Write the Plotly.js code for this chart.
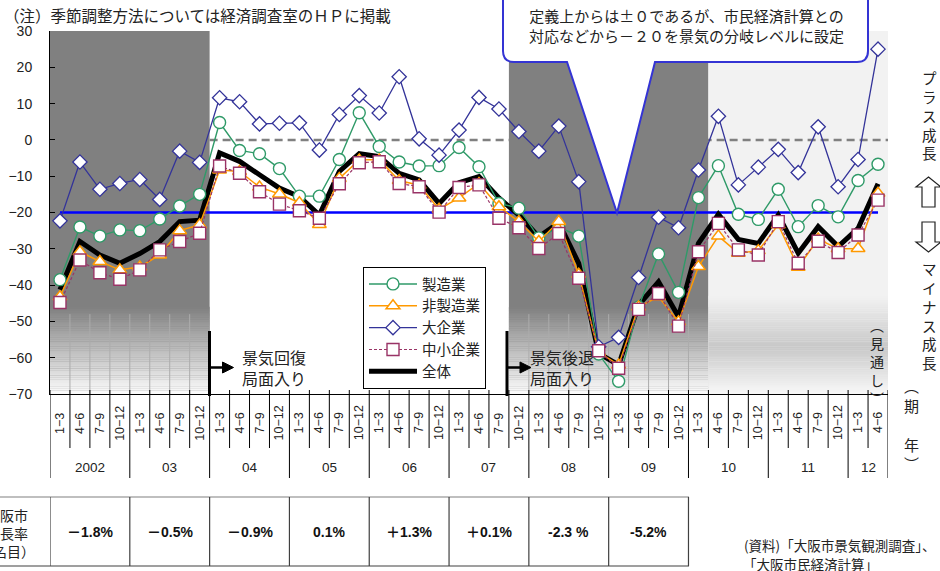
<!DOCTYPE html>
<html><head><meta charset="utf-8">
<script src="https://cdn.plot.ly/plotly-3.0.1.min.js"></script>
<style>html,body{margin:0;padding:0;background:#fff;}#chart{width:940px;height:571px;}</style>
</head><body><div id="chart"></div>
<script>
// ---- data ----
const yearLabels = ['2002','03','04','05','06','07','08','09','10','11','12'];
const quarterNames = ['1−3','4−6','7−9','10−12'];
const quartersPerYear = [4,4,4,4,4,4,4,4,4,4,2];

const seizogyo = [-38.5,-24,-26.5,-24.8,-25,-21.8,-18.2,-15,4.8,-2.9,-3.8,-7.9,-15.5,-15.5,-5.4,7.5,-1.8,-6.1,-7.2,-7.1,-2.1,-7.4,-17.5,-18.8,-27,-24,-26.5,-59,-66.5,-46,-31.4,-42,-15.9,-7.1,-20.5,-21.9,-13.6,-23.9,-18.1,-21.2,-11.2,-6.7];
const hiseizogyo = [-43.2,-30.8,-33.5,-35.8,-35,-31.7,-25,-23.4,-8.3,-8.7,-13,-14.9,-17.3,-23.3,-10.6,-5.5,-5.5,-11.2,-12.5,-19.1,-16,-12,-18.4,-22.5,-28,-22.5,-37,-58.5,-62,-46,-43.2,-50.1,-34.9,-26.5,-31.2,-30.5,-23.4,-35.1,-27.3,-30,-29.9,-14.7];
const daikigyo = [-22.3,-6.1,-13.6,-12,-10.9,-16.4,-3.1,-6.2,11.6,10.5,4.4,4.6,4.7,-2.8,7,12.2,7.4,17.4,0.3,-4.2,2.7,11.7,8.5,2.3,-3.1,3.8,-11.5,-57,-54.4,-37.9,-21.3,-24.2,-8.3,6.5,-12.4,-7.5,-2.6,-9,3.6,-12.9,-5.4,25];
const chushokigyo = [-44.8,-33.1,-36.6,-38.4,-35.8,-30.3,-28,-25.7,-7.2,-9.2,-14.3,-17.7,-19.5,-21.6,-12.1,-6.3,-6,-12,-12.9,-19.9,-13.1,-12.4,-21.6,-24.2,-29.9,-25.8,-38.1,-58.1,-62.9,-46.7,-42.3,-51.3,-30.8,-23,-30.3,-31.7,-22.5,-34,-27.9,-31,-26.2,-16.6];
const zentai = [-41.3,-28,-31.7,-34,-31.3,-28,-22.5,-22.1,-3.6,-5.9,-9.6,-13.3,-15.6,-20.7,-8.7,-3.8,-4.6,-9.2,-11,-17.5,-11.8,-10.1,-16,-20.7,-26.7,-22.8,-34,-58.8,-62,-45.5,-39.1,-48.7,-28.5,-20.5,-27.4,-28.5,-20.7,-31.2,-23.9,-29.4,-24.4,-12.1];

const growthRates = ['－1.8%','－0.5%','－0.9%','0.1%','＋1.3%','＋0.1%','-2.3 %','-5.2%'];

const thresholdLevel = -20;
const zeroLevel = 0;

// ---- derived categories ----
const quarterLabels = [];
const yearStart = [];
quartersPerYear.forEach((n, y) => {
  yearStart.push(quarterLabels.length);
  for (let q = 0; q < n; q++) quarterLabels.push(quarterNames[q]);
});
const xIdx = quarterLabels.map((_, i) => i);
const nQ = quarterLabels.length;

// ---- geometry helpers (plot area px) ----
const L = 50, T = 31, W = 838, H = 363;
const X = px => (px - L) / W;
const Y = py => (T + H - py) / H;
const pt = (px, py) => X(px) + ',' + Y(py);

const JP = '"Noto Sans CJK JP", sans-serif';
const NUM = '"Liberation Sans", Arial, "Noto Sans CJK JP", sans-serif';
const TXT = '#222';

const shapes = [];
const annotations = [];

// shaded regions
function g(v) { return 'rgb(' + v + ',' + v + ',' + v + ')'; }
function region(x0, x1, colorFn, base) {
  shapes.push({type:'rect', xref:'x', yref:'y', x0:x0, x1:x1, y0:-70, y1:30, fillcolor:g(base), line:{width:0}, layer:'below'});
  for (let v = -70; v < -40; v += 0.5) {
    const c = colorFn(v + 0.25);
    if (c === base) continue;
    shapes.push({type:'rect', xref:'x', yref:'y', x0:x0, x1:x1, y0:v, y1:v + 0.55, fillcolor:g(c), line:{width:0}, layer:'below'});
  }
}
const darkFn = v => v >= -46 ? 128 : Math.round(128 + (-46 - v) / 24 * 124);
const lightFn = v => {
  if (v >= -43) return 242;
  if (v >= -57) return Math.round(242 - (-43 - v) / 14 * 42);
  return Math.round(200 + (-57 - v) / 13 * 48);
};
region(-0.5, yearStart[2] - 0.5, darkFn, 128);
region(22.5, 32.5, darkFn, 128);
region(32.5, nQ - 0.5, lightFn, 242);
// faint verticals in the dark gradient zone
[[0,8],[23,33]].forEach(([a,b]) => {
  for (let k = a + 1; k < b; k++) {
    shapes.push({type:'line', xref:'x', yref:'y', x0:k - 0.5, x1:k - 0.5, y0:-48, y1:-70, line:{color:'#acacac', width:1}, layer:'below'});
  }
});

// reference lines
shapes.push({type:'line', xref:'x', yref:'y', x0:yearStart[2] - 0.5, x1:nQ - 0.5, y0:zeroLevel, y1:zeroLevel, line:{color:'#808080', width:2.5, dash:'8px,5px'}, layer:'below'});
shapes.push({type:'line', xref:'x', yref:'y', x0:0, x1:nQ - 1, y0:thresholdLevel, y1:thresholdLevel, line:{color:'#0000ff', width:2.5}, layer:'below'});

// x-axis dividers
const yearBounds = yearStart.concat([nQ]);
for (let k = 0; k <= nQ; k++) {
  const isYear = yearBounds.indexOf(k) >= 0;
  shapes.push({type:'line', xref:'x', yref:'paper', x0:k - 0.5, x1:k - 0.5, y0:Y(390), y1:Y(isYear ? 478 : 448), line:{color:'#000', width:1}});
}
// quarter labels
quarterLabels.forEach((q, i) => {
  annotations.push({xref:'x', yref:'paper', x:i, y:Y(423), text:q, showarrow:false, textangle:-90, xanchor:'center', yanchor:'middle', font:{family:NUM, size:12.5, color:TXT}});
});
// year labels
yearLabels.forEach((yl, j) => {
  const c = yearStart[j] + (quartersPerYear[j] - 1) / 2;
  annotations.push({xref:'x', yref:'paper', x:c, y:Y(467), text:yl, showarrow:false, xanchor:'center', yanchor:'middle', font:{family:NUM, size:13.5, color:TXT}});
});

// table
shapes.push({type:'line', xref:'paper', yref:'paper', x0:X(0), x1:X(689), y0:Y(497), y1:Y(497), line:{color:'#808080', width:1.2}});
shapes.push({type:'line', xref:'paper', yref:'paper', x0:X(0), x1:X(689), y0:Y(566), y1:Y(566), line:{color:'#404040', width:1.2}});
for (let j = 0; j <= growthRates.length; j++) {
  const xb = yearStart[j] !== undefined ? yearStart[j] - 0.5 : nQ - 0.5;
  shapes.push({type:'line', xref:'x', yref:'paper', x0:xb, x1:xb, y0:Y(497), y1:Y(566), line:{color:'#404040', width:1.2}});
}
growthRates.forEach((r, j) => {
  annotations.push({xref:'x', yref:'paper', x:yearStart[j] + 1.5, y:Y(532), text:'<b>' + r + '</b>', showarrow:false, xanchor:'center', yanchor:'middle', font:{family:NUM, size:14, color:'#111'}});
});
annotations.push({xref:'paper', yref:'paper', x:X(6.5), y:Y(533), text:'大阪市<br>成長率<br>（名目）', showarrow:false, xanchor:'center', yanchor:'middle', font:{family:JP, size:14, color:TXT}});

// source
annotations.push({xref:'paper', yref:'paper', x:X(742), y:Y(545), text:'(資料)「大阪市景気観測調査」、', showarrow:false, xanchor:'left', yanchor:'middle', font:{family:JP, size:13.5, color:TXT}});
annotations.push({xref:'paper', yref:'paper', x:X(810), y:Y(563.5), text:'「大阪市民経済計算」', showarrow:false, xanchor:'center', yanchor:'middle', font:{family:JP, size:13.5, color:TXT}});

// note title
annotations.push({xref:'paper', yref:'paper', x:X(2), y:Y(15), text:'（注）季節調整方法については経済調査室のＨＰに掲載', showarrow:false, xanchor:'left', yanchor:'middle', font:{family:JP, size:15.5, color:TXT}});

// callout
shapes.push({type:'path', xref:'paper', yref:'paper',
  path:'M' + pt(503,-20) + ' L' + pt(503,51) + ' Q' + pt(503,62) + ' ' + pt(514,62) + ' L' + pt(567,62) + ' L' + pt(617,213) + ' L' + pt(655,62) + ' L' + pt(857,62) + ' Q' + pt(868,62) + ' ' + pt(868,51) + ' L' + pt(868,-20) + ' Z',
  fillcolor:'#fff', line:{color:'#3434d4', width:2}, layer:'above'});
annotations.push({xref:'paper', yref:'paper', x:X(686), y:Y(25), text:'定義上からは±０であるが、市民経済計算との<br>対応などから－２０を景気の分岐レベルに設定', showarrow:false, xanchor:'center', yanchor:'middle', font:{family:JP, size:15, color:TXT}});

// phase markers
function phase(px, textPx, label) {
  shapes.push({type:'line', xref:'paper', yref:'paper', x0:X(px), x1:X(px), y0:Y(331), y1:Y(396), line:{color:'#000', width:3}});
  shapes.push({type:'line', xref:'paper', yref:'paper', x0:X(px), x1:X(px + 15), y0:Y(367.5), y1:Y(367.5), line:{color:'#000', width:2.5}});
  shapes.push({type:'path', xref:'paper', yref:'paper', path:'M' + pt(px + 13, 362) + ' L' + pt(px + 24, 367.5) + ' L' + pt(px + 13, 373) + ' Z', fillcolor:'#000', line:{color:'#000', width:1}});
  annotations.push({xref:'paper', yref:'paper', x:X(textPx), y:Y(367), text:label, showarrow:false, xanchor:'left', yanchor:'middle', align:'left', font:{family:JP, size:16, color:TXT}});
}
phase(209.5, 240, '景気回復<br>局面入り');
phase(507, 528, '景気後退<br>局面入り');

// right side labels
annotations.push({xref:'paper', yref:'paper', x:X(929), y:Y(115.5), text:'プ<br>ラ<br>ス<br>成<br>長', showarrow:false, xanchor:'center', yanchor:'middle', font:{family:JP, size:14.5, color:TXT}});
annotations.push({xref:'paper', yref:'paper', x:X(929), y:Y(315), text:'マ<br>イ<br>ナ<br>ス<br>成<br>長', showarrow:false, xanchor:'center', yanchor:'middle', font:{family:JP, size:14.5, color:TXT}});
annotations.push({xref:'paper', yref:'paper', x:X(877), y:Y(361), text:'︵<br>見<br>通<br>し<br>︶', showarrow:false, xanchor:'center', yanchor:'middle', font:{family:JP, size:14, color:TXT}});
annotations.push({xref:'paper', yref:'paper', x:X(911), y:Y(424), text:'︵<br>期<br><br>年<br>︶', showarrow:false, xanchor:'center', yanchor:'middle', font:{family:JP, size:15, color:TXT}});
// outline arrows
shapes.push({type:'path', xref:'paper', yref:'paper', path:'M' + pt(928.5,177) + ' L' + pt(941,187) + ' L' + pt(935,187) + ' L' + pt(935,207) + ' L' + pt(922,207) + ' L' + pt(922,187) + ' L' + pt(916,187) + ' Z', fillcolor:'#fff', line:{color:'#222', width:1.2}});
shapes.push({type:'path', xref:'paper', yref:'paper', path:'M' + pt(922,222) + ' L' + pt(935,222) + ' L' + pt(935,242) + ' L' + pt(941,242) + ' L' + pt(928.5,252) + ' L' + pt(916,242) + ' L' + pt(922,242) + ' Z', fillcolor:'#fff', line:{color:'#222', width:1.2}});

// ---- traces ----
const traces = [
  {name:'全体', y:zentai, mode:'lines', line:{color:'#000', width:5}, legendrank:5},
  {name:'製造業', y:seizogyo, mode:'lines+markers', line:{color:'#2f9a68', width:1.4}, marker:{symbol:'circle', size:12, color:'#fff', line:{color:'#2f9a68', width:1.4}}, legendrank:1},
  {name:'非製造業', y:hiseizogyo, mode:'lines+markers', line:{color:'#ff9900', width:1.5}, marker:{symbol:'triangle-up', size:12, color:'#fff', line:{color:'#ff9900', width:1.5}}, legendrank:2},
  {name:'大企業', y:daikigyo, mode:'lines+markers', line:{color:'#333399', width:1.3}, marker:{symbol:'diamond', size:11, color:'#fff', line:{color:'#333399', width:1.3}}, legendrank:3},
  {name:'中小企業', y:chushokigyo, mode:'lines+markers', line:{color:'#993366', width:1.2, dash:'3px,2px'}, marker:{symbol:'square', size:12, color:'#fff', line:{color:'#993366', width:1.4}}, legendrank:4}
].map(t => Object.assign({type:'scatter', x:xIdx, cliponaxis:false}, t));

const layout = {
  width:940, height:571,
  margin:{l:L, r:940 - L - W, t:T, b:571 - T - H, pad:0},
  paper_bgcolor:'#fff', plot_bgcolor:'#fff',
  showlegend:true,
  legend:{x:X(363), y:Y(267), xanchor:'left', yanchor:'top', bgcolor:'#fff', bordercolor:'#000', borderwidth:1, font:{family:JP, size:14.5, color:TXT}, itemwidth:48, traceorder:'normal'},
  xaxis:{range:[-0.5, nQ - 0.5], showgrid:false, zeroline:false, showticklabels:false, ticks:'', showline:true, linecolor:'#000', linewidth:1, fixedrange:true},
  yaxis:{range:[-70, 30], dtick:10, tick0:0, showgrid:false, zeroline:false, ticks:'inside', ticklen:5, tickcolor:'#000', showline:true, linecolor:'#000', linewidth:1, ticklabelstandoff:14, tickfont:{family:NUM, size:14, color:TXT}, fixedrange:true},
  shapes:shapes, annotations:annotations, hovermode:false
};
Plotly.newPlot('chart', traces, layout, {staticPlot:true, displayModeBar:false});
</script></body></html>
